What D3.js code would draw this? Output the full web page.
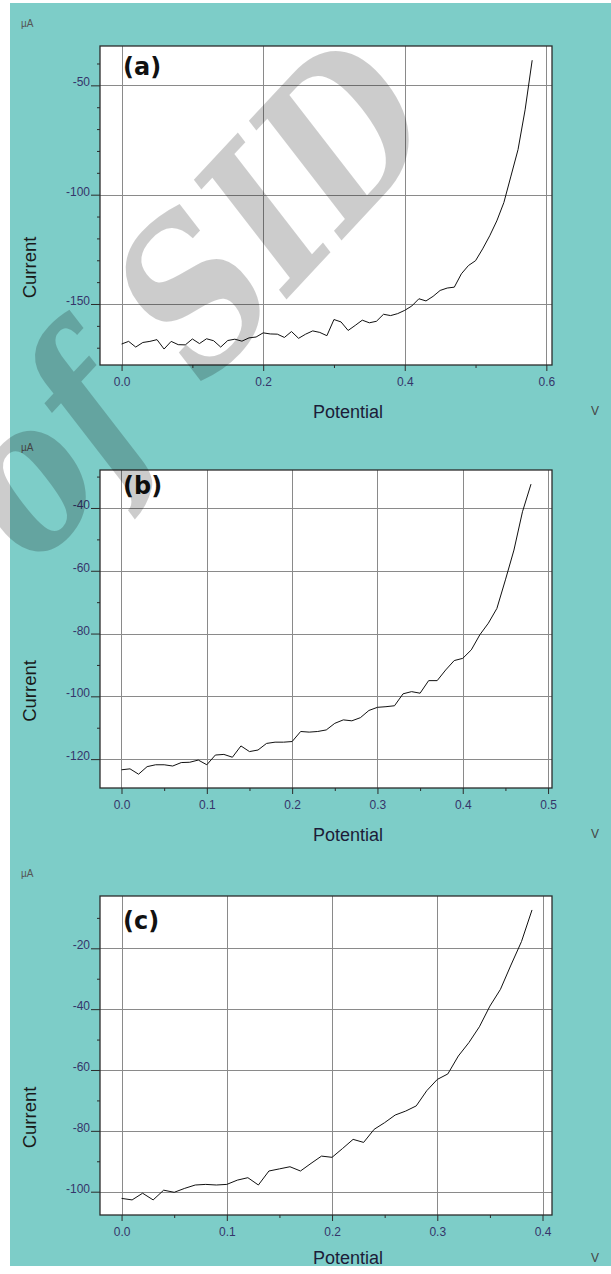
<!DOCTYPE html>
<html><head><meta charset="utf-8">
<script src="https://cdn.jsdelivr.net/npm/d3@7/dist/d3.min.js"></script>
<style>html,body{margin:0;padding:0;background:#fff}svg{display:block}</style>
</head><body>
<svg id="chart" width="611" height="1274"></svg>
<script>
// ---------- data ----------
const potential = [0.00,0.01,0.02,0.03,0.04,0.05,0.06,0.07,0.08,0.09,
  0.10,0.11,0.12,0.13,0.14,0.15,0.16,0.17,0.18,0.19,
  0.20,0.21,0.22,0.23,0.24,0.25,0.26,0.27,0.28,0.29,
  0.30,0.31,0.32,0.33,0.34,0.35,0.36,0.37,0.38,0.39,
  0.40,0.41,0.42,0.43,0.44,0.45,0.46,0.47,0.48,0.49,
  0.50,0.51,0.52,0.53,0.54,0.55,0.56,0.57,0.58];

const currentA = [-168.3,-167.1,-169.7,-167.6,-167.1,-166.3,-170.6,-167.1,-168.6,-168.7,
  -166.0,-168.1,-165.9,-166.8,-169.7,-166.7,-166.1,-167.0,-165.5,-165.1,
  -163.2,-163.7,-163.8,-165.3,-162.6,-165.7,-163.8,-162.3,-163.0,-164.5,
  -157.1,-158.2,-162.1,-159.8,-157.4,-158.6,-157.9,-154.7,-155.3,-154.4,
  -152.9,-150.9,-147.6,-148.6,-146.5,-143.8,-142.7,-142.3,-136.2,-132.4,
  -130.2,-124.8,-118.8,-112.0,-103.6,-91.5,-79.4,-61.2,-38.5];

const currentB = [-123.4,-123.1,-124.8,-122.4,-121.8,-121.8,-122.2,-121.1,-121.0,-120.3,
  -121.8,-118.7,-118.5,-119.4,-115.8,-117.6,-117.1,-115.0,-114.6,-114.6,
  -114.4,-111.2,-111.4,-111.2,-110.7,-108.6,-107.5,-107.8,-106.8,-104.5,
  -103.5,-103.3,-103.0,-99.2,-98.5,-99.0,-95.0,-95.0,-91.6,-88.6,
  -87.9,-85.2,-80.4,-76.7,-72.0,-62.9,-53.4,-41.2,-32.4];

const currentC = [-102.2,-102.7,-100.5,-102.7,-99.5,-100.2,-98.9,-97.8,-97.6,-97.8,
  -97.6,-96.2,-95.4,-97.8,-93.2,-92.5,-91.8,-93.2,-90.7,-88.3,
  -88.7,-85.8,-82.8,-83.8,-79.5,-77.3,-74.8,-73.5,-71.8,-66.8,
  -63.1,-61.3,-55.4,-51.0,-45.8,-39.0,-33.5,-25.5,-17.8,-7.4];

// axis ranges
const xRangeA = [-0.0305, 0.608], yRangeA = [-177.9, -32.0];
const xRangeB = [-0.0252, 0.5046], yRangeB = [-129.2, -27.9];
const xRangeC = [-0.0205, 0.409], yRangeC = [-107.66, -2.81];

// tick values
const xMajorA = [0.0, 0.2, 0.4, 0.6], xMinorA = [0.1, 0.3, 0.5];
const yMajorA = [-50, -100, -150];
const yMinorA = [-40, -60, -70, -80, -90, -110, -120, -130, -140, -160, -170];
const xMajorB = [0.0, 0.1, 0.2, 0.3, 0.4, 0.5], xMinorB = [0.05, 0.15, 0.25, 0.35, 0.45];
const yMajorB = [-40, -60, -80, -100, -120];
const yMinorB = [-30, -50, -70, -90, -110];
const xMajorC = [0.0, 0.1, 0.2, 0.3, 0.4], xMinorC = [0.05, 0.15, 0.25, 0.35];
const yMajorC = [-20, -40, -60, -80, -100];
const yMinorC = [-10, -30, -50, -70, -90];

const panelLabels = ["(a)", "(b)", "(c)"];
const xTitle = "Potential", yTitle = "Current", xUnit = "V", yUnit = "µA";
const watermarkText = "of SID";

// ---------- layout ----------
const W = 611, H = 1274;
const plotLeft = 100, plotRight = 552;
const layout = [
  {top: 46,  bottom: 365,  labelBase: 75},
  {top: 470, bottom: 788,  labelBase: 494},
  {top: 896, bottom: 1215, labelBase: 929}
];
const panels = [
  {label: panelLabels[0], xs: potential.slice(0, currentA.length), ys: currentA, xr: xRangeA, yr: yRangeA,
   xMaj: xMajorA, xMin: xMinorA, yMaj: yMajorA, yMin: yMinorA},
  {label: panelLabels[1], xs: potential.slice(0, currentB.length), ys: currentB, xr: xRangeB, yr: yRangeB,
   xMaj: xMajorB, xMin: xMinorB, yMaj: yMajorB, yMin: yMinorB},
  {label: panelLabels[2], xs: potential.slice(0, currentC.length), ys: currentC, xr: xRangeC, yr: yRangeC,
   xMaj: xMajorC, xMin: xMinorC, yMaj: yMajorC, yMin: yMinorC}
];

const svg = d3.select("#chart");
svg.append("rect").attr("width", W).attr("height", H).attr("fill", "#ffffff");
svg.append("rect").attr("x", 10).attr("y", 3).attr("width", W - 10).attr("height", 1263).attr("fill", "#7dcdc8");

const tickFont = "'Liberation Sans', Arial, sans-serif";
const tickColor = "#35356a";

panels.forEach((p, i) => {
  const L = layout[i];
  const g = svg.append("g");
  const x = d3.scaleLinear().domain(p.xr).range([plotLeft, plotRight]);
  const y = d3.scaleLinear().domain(p.yr).range([L.bottom, L.top]);

  g.append("rect").attr("x", plotLeft).attr("y", L.top)
    .attr("width", plotRight - plotLeft).attr("height", L.bottom - L.top).attr("fill", "#ffffff");

  // grid
  g.append("g").selectAll("line").data(p.xMaj).join("line")
    .attr("x1", d => Math.round(x(d)) + 0.5).attr("x2", d => Math.round(x(d)) + 0.5)
    .attr("y1", L.top).attr("y2", L.bottom)
    .attr("stroke", "#8a8a8a").attr("stroke-width", 1);
  g.append("g").selectAll("line").data(p.yMaj).join("line")
    .attr("y1", d => Math.round(y(d)) + 0.5).attr("y2", d => Math.round(y(d)) + 0.5)
    .attr("x1", plotLeft).attr("x2", plotRight)
    .attr("stroke", "#8a8a8a").attr("stroke-width", 1);

  // curve
  const line = d3.line().x((d, k) => x(p.xs[k])).y(d => y(d));
  g.append("path").datum(p.ys).attr("d", line)
    .attr("fill", "none").attr("stroke", "#111").attr("stroke-width", 1.0).attr("stroke-linejoin", "round");

  // frame
  g.append("rect").attr("x", plotLeft).attr("y", L.top)
    .attr("width", plotRight - plotLeft).attr("height", L.bottom - L.top)
    .attr("fill", "none").attr("stroke", "#2b2b2b").attr("stroke-width", 1.3);

  // y axis major
  const yAx = g.append("g").attr("transform", `translate(${plotLeft},0)`)
    .call(d3.axisLeft(y).tickValues(p.yMaj).tickSize(9).tickPadding(1).tickFormat(d => String(d)));
  yAx.select(".domain").remove();
  yAx.selectAll(".tick line").attr("stroke", "#2b2b2b");
  yAx.selectAll(".tick text").attr("dy", "0.05em").attr("fill", tickColor)
    .style("font-family", tickFont).style("font-size", "12px");
  // y axis minor
  const yAxm = g.append("g").attr("transform", `translate(${plotLeft},0)`)
    .call(d3.axisLeft(y).tickValues(p.yMin).tickSize(3).tickFormat(""));
  yAxm.select(".domain").remove();
  yAxm.selectAll(".tick line").attr("stroke", "#2b2b2b");

  // x axis major
  const xAx = g.append("g").attr("transform", `translate(0,${L.bottom})`)
    .call(d3.axisBottom(x).tickValues(p.xMaj).tickSize(6).tickPadding(6).tickFormat(d3.format(".1f")));
  xAx.select(".domain").remove();
  xAx.selectAll(".tick line").attr("stroke", "#2b2b2b");
  xAx.selectAll(".tick text").attr("fill", tickColor)
    .style("font-family", tickFont).style("font-size", "12px");
  const xAxm = g.append("g").attr("transform", `translate(0,${L.bottom})`)
    .call(d3.axisBottom(x).tickValues(p.xMin).tickSize(3).tickFormat(""));
  xAxm.select(".domain").remove();
  xAxm.selectAll(".tick line").attr("stroke", "#2b2b2b");

  // panel label
  g.append("text").attr("x", 123).attr("y", L.labelBase).text(p.label)
    .style("font-family", "'DejaVu Sans', sans-serif").style("font-weight", "bold")
    .style("font-size", "24px").attr("fill", "#111");

  // titles
  g.append("text").attr("x", 21).attr("y", L.top - 19).text(yUnit)
    .style("font-family", tickFont).style("font-size", "10px").attr("fill", "#555");
  g.append("text")
    .attr("transform", `translate(36,${(L.top + L.bottom) / 2 + 62}) rotate(-90)`)
    .attr("text-anchor", "middle").text(yTitle)
    .style("font-family", tickFont).style("font-size", "18.5px").attr("fill", "#1a1a1a");
  g.append("text").attr("x", 348).attr("y", Math.min(L.bottom + 53, 1264)).attr("text-anchor", "middle").text(xTitle)
    .style("font-family", tickFont).style("font-size", "18px").attr("fill", "#1c1c38");
  g.append("text").attr("x", 595).attr("y", Math.min(L.bottom + 50, 1262)).attr("text-anchor", "middle").text(xUnit)
    .style("font-family", tickFont).style("font-size", "12px").attr("fill", "#444");
});

// watermark
svg.append("text").attr("transform", "translate(188,300) rotate(-47) scale(0.84,1)")
  .attr("text-anchor", "middle").attr("dy", "0.35em").text(watermarkText)
  .style("font-family", "'DejaVu Serif', serif").style("font-weight", "bold").style("font-style", "italic")
  .style("font-size", "205px").attr("fill", "#000").attr("fill-opacity", 0.2);
</script>
</body></html>
